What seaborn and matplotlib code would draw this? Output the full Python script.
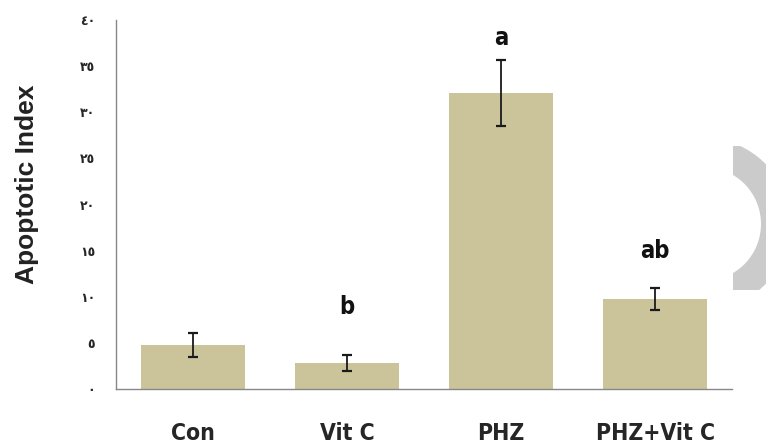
import matplotlib
matplotlib.use("Agg")
import matplotlib.pyplot as plt
import seaborn as sns
import pandas as pd
from matplotlib.patches import Wedge, Rectangle

groups = ["Con", "Vit C", "PHZ", "PHZ+Vit C"]
means = [4.8, 2.8, 32.1, 9.8]
errors = [1.3, 0.9, 3.6, 1.2]
letters = ["", "b", "a", "ab"]
letter_y = [0, 8.9, 38.1, 15.0]
ytick_values = [0, 5, 10, 15, 20, 25, 30, 35, 40]
ytick_labels = ["٠", "٥", "١٠", "١٥", "٢٠", "٢٥", "٣٠", "٣٥", "٤٠"]

sns.set_theme(style="white")
plt.rcParams["font.family"] = ["DejaVu Sans"]

df = pd.DataFrame({"group": groups, "value": means})

fig = plt.figure(figsize=(7.66, 4.44), dpi=100)
W, H = 766, 444
ax = fig.add_axes([116 / W, (H - 389) / H, (732 - 116) / W, (389 - 20) / H])

bar_color = "#CBC49B"
sns.barplot(data=df, x="group", y="value", color=bar_color, saturation=1,
            width=0.675, errorbar=None, ax=ax, edgecolor="none")
ax.errorbar(x=list(range(len(groups))), y=means, yerr=errors, fmt="none",
            ecolor="#1a1a1a", elinewidth=1.3, capsize=3.5, capthick=1.6, zorder=5)

narrow = ["DejaVu Sans"]
for i, (t, yy) in enumerate(zip(letters, letter_y)):
    if t:
        ax.text(i, yy, t, ha="center", va="center", fontsize=17,
                fontweight="bold", family=narrow, fontstretch="condensed",
                color="#111111")

ax.set_xlim(-0.5, 3.5)
ax.set_ylim(0, 40)
ax.set_yticks(ytick_values)
ax.set_yticklabels(ytick_labels, fontsize=9, fontweight="bold", family=["DejaVu Sans"])
ax.set_xticks(range(len(groups)))
ax.set_xticklabels(groups, fontsize=16.5, fontweight="bold", family=narrow,
                   fontstretch="condensed")
ax.set_xticks([-0.5, 0.5, 1.5, 2.5, 3.5], minor=True)
ax.tick_params(axis="x", which="major", length=0, pad=24)
ax.tick_params(axis="x", which="minor", length=7, width=1, color="#888888", direction="inout")
ax.tick_params(axis="y", which="major", length=5, width=1, color="#888888",
               direction="out", pad=10)
ax.set_xlabel("")
ax.set_ylabel("Apoptotic Index", fontsize=19, fontweight="bold",
              family=["Liberation Sans", "DejaVu Sans"], fontstretch="normal",
              color="#222222")
ax.yaxis.set_label_coords(-0.125, 0.556)
for s in ["top", "right"]:
    ax.spines[s].set_visible(False)
for s in ["left", "bottom"]:
    ax.spines[s].set_color("#888888")
    ax.spines[s].set_linewidth(1)

# light grey decorative crescent at the right edge
arc = Wedge((704, H - 224), 86, -75, 75, width=29,
            transform=None, facecolor="#cbcbcb", edgecolor="none")
clip = Rectangle((733, H - 290), 40, 290 - 146, transform=None)
fig.patches.append(arc)
arc.set_clip_path(clip)

fig.savefig("out.png", dpi=100)
